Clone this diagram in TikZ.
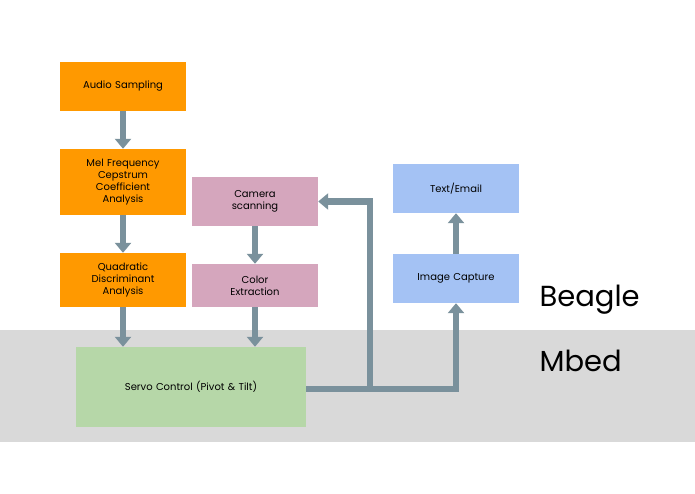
\documentclass[tikz,border=0pt]{standalone}
\usepackage{fontspec}
\setmainfont{Poppins}
\usetikzlibrary{arrows.meta, positioning}
\definecolor{boxorange}{HTML}{FF9900}
\definecolor{boxpink}{HTML}{D5A6BD}
\definecolor{boxblue}{HTML}{A4C2F4}
\definecolor{boxgreen}{HTML}{B6D7A8}
\definecolor{bandgray}{HTML}{D9D9D9}
\definecolor{arrowgray}{HTML}{7A919C}

\begin{document}
\begin{tikzpicture}[
    x=1pt, y=-1pt,
    box/.style={rectangle, text centered, align=center, minimum height=49pt, minimum width=126pt, text width=120pt, font=\fontsize{10}{12}\selectfont, inner sep=2pt},
    arrow/.style={-{Triangle[length=10pt, width=16pt]}, line width=6.5pt, draw=arrowgray},
    label/.style={font=\fontsize{29}{32}\selectfont, anchor=west}
]

% Background and lower band
\fill[white] (0,0) rectangle (695,494);
\fill[bandgray] (0,330) rectangle (695,442);

% Audio branch
\node[box, fill=boxorange] (audio) at (123,86.5) {Audio Sampling};
\node[box, fill=boxorange, minimum height=66pt] (mfcc) at (123,182) {Mel Frequency\\Cepstrum\\Coefficient\\Analysis};
\node[box, fill=boxorange, minimum height=54pt] (qda) at (123,280) {Quadratic\\Discriminant\\Analysis};

% Camera branch
\node[box, fill=boxpink] (camera) at (255,201.5) {Camera\\scanning};
\node[box, fill=boxpink, minimum height=43pt] (color) at (255,285.5) {Color\\Extraction};

% Capture branch
\node[box, fill=boxblue] (email) at (456,188.5) {Text/Email};
\node[box, fill=boxblue] (capture) at (456,278.5) {Image Capture};

% Servo
\node[box, fill=boxgreen, minimum width=230pt, minimum height=80pt, text width=220pt] (servo) at (191,387) {Servo Control (Pivot \& Tilt)};

% Labels
\node[label] (beagle) at (536,300) {Beagle};
\node[label] (mbed) at (536,361) {Mbed};

% Connections
\coordinate (split) at (370,389);
\draw[arrow] (audio) -- (mfcc);
\draw[arrow] (mfcc) -- (qda);
\draw[arrow] (qda) -- (qda |- servo.north);
\draw[arrow] (camera) -- (color);
\draw[arrow] (color) -- (color |- servo.north);
\draw[arrow] (capture) -- (email);
\draw[arrow] (servo.east |- split) -| (capture.south);
\draw[arrow] (split) |- (camera.east);

\end{tikzpicture}
\end{document}
